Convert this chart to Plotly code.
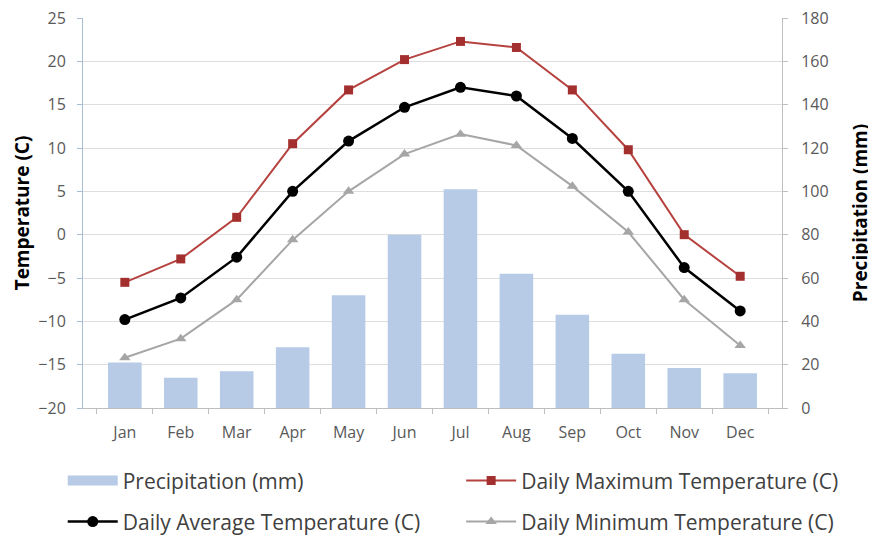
import plotly.graph_objects as go

months = ["Jan", "Feb", "Mar", "Apr", "May", "Jun", "Jul", "Aug", "Sep", "Oct", "Nov", "Dec"]
precip_mm = [21, 14, 17, 28, 52, 80, 101, 62, 43, 25, 18.5, 16]
t_max = [-5.5, -2.8, 2.0, 10.5, 16.7, 20.2, 22.3, 21.6, 16.7, 9.8, 0.0, -4.8]
t_avg = [-9.8, -7.3, -2.6, 5.0, 10.8, 14.7, 17.0, 16.0, 11.1, 5.0, -3.8, -8.8]
t_min = [-14.2, -12.0, -7.5, -0.6, 5.0, 9.3, 11.6, 10.3, 5.6, 0.3, -7.5, -12.8]

temp_ticks = list(range(-20, 30, 5))
precip_ticks = list(range(0, 200, 20))

FONT = "Open Sans"
BAR_COLOR = "#b7cbe6"
fig = go.Figure()

fig.add_trace(go.Bar(
    x=months, y=precip_mm, name="Precipitation (mm)", yaxis="y", showlegend=False,
    marker=dict(color=BAR_COLOR, line=dict(width=0)), width=0.6,
))
# legend-only proxy so the legend key is a wide band like the original
fig.add_trace(go.Scatter(
    x=[None], y=[None], name="Precipitation (mm)", yaxis="y", legend="legend",
    mode="lines", line=dict(color=BAR_COLOR, width=12), hoverinfo="skip",
))
fig.add_trace(go.Scatter(
    x=months, y=t_max, name="Daily Maximum Temperature (C)", yaxis="y2", legend="legend2",
    mode="lines+markers", line=dict(color="#b5423f", width=2),
    marker=dict(symbol="square", size=9, color="#a3302e"),
))
fig.add_trace(go.Scatter(
    x=months, y=t_avg, name="Daily Average Temperature (C)", yaxis="y2", legend="legend3",
    mode="lines+markers", line=dict(color="#000000", width=2.5),
    marker=dict(symbol="circle", size=11, color="#000000"),
))
fig.add_trace(go.Scatter(
    x=months, y=t_min, name="Daily Minimum Temperature (C)", yaxis="y2", legend="legend4",
    mode="lines+markers", line=dict(color="#a6a6a6", width=2),
    marker=dict(symbol="triangle-up", size=10, color="#a6a6a6"),
))

leg_common = dict(
    orientation="v", xanchor="left", yanchor="middle",
    font=dict(size=21, color="#404040", family=FONT), itemwidth=50,
    bgcolor="rgba(0,0,0,0)",
)
col1_x, col2_x = -0.029, 0.541
row1_y, row2_y = -0.187, -0.292

fig.update_layout(
    width=868, height=527,
    margin=dict(l=75, r=94, t=10, b=127, autoexpand=False),
    paper_bgcolor="white", plot_bgcolor="white",
    font=dict(family=FONT, color="#595959", size=16),
    xaxis=dict(
        type="category", showline=True, linecolor="#bfbfbf", linewidth=1,
        ticks="outside", tickson="boundaries", ticklen=5, tickcolor="#bfbfbf",
        tickfont=dict(size=16, color="#595959"), showgrid=False, ticklabelstandoff=10,
    ),
    yaxis=dict(
        side="right", range=[0, 180], tickvals=precip_ticks,
        showgrid=True, gridcolor="#dedede", gridwidth=1,
        showline=True, linecolor="#bfbfbf", ticks="outside", ticklen=5, tickcolor="#bfbfbf",
        zeroline=False, tickfont=dict(size=16, color="#595959"), ticklabelstandoff=10,
        ticklabeloverflow="allow",
        title=dict(text="Precipitation (mm)", font=dict(size=19, color="#000000", family=FONT, weight="bold"), standoff=26),
    ),
    yaxis2=dict(
        overlaying="y", side="left", range=[-20, 25], tickvals=temp_ticks,
        showgrid=False, zeroline=False,
        showline=True, linecolor="#a8bcd4", ticks="outside", ticklen=5, tickcolor="#a8bcd4",
        tickfont=dict(size=16, color="#595959"), ticklabelstandoff=8,
        ticklabeloverflow="allow",
        title=dict(text="Temperature (C)", font=dict(size=19, color="#000000", family=FONT, weight="bold"), standoff=3),
    ),
    legend=dict(x=col1_x, y=row1_y, **leg_common),
    legend2=dict(x=col2_x, y=row1_y, **leg_common),
    legend3=dict(x=col1_x, y=row2_y, **leg_common),
    legend4=dict(x=col2_x, y=row2_y, **leg_common),
    showlegend=True,
)

fig.write_html("out.html")
